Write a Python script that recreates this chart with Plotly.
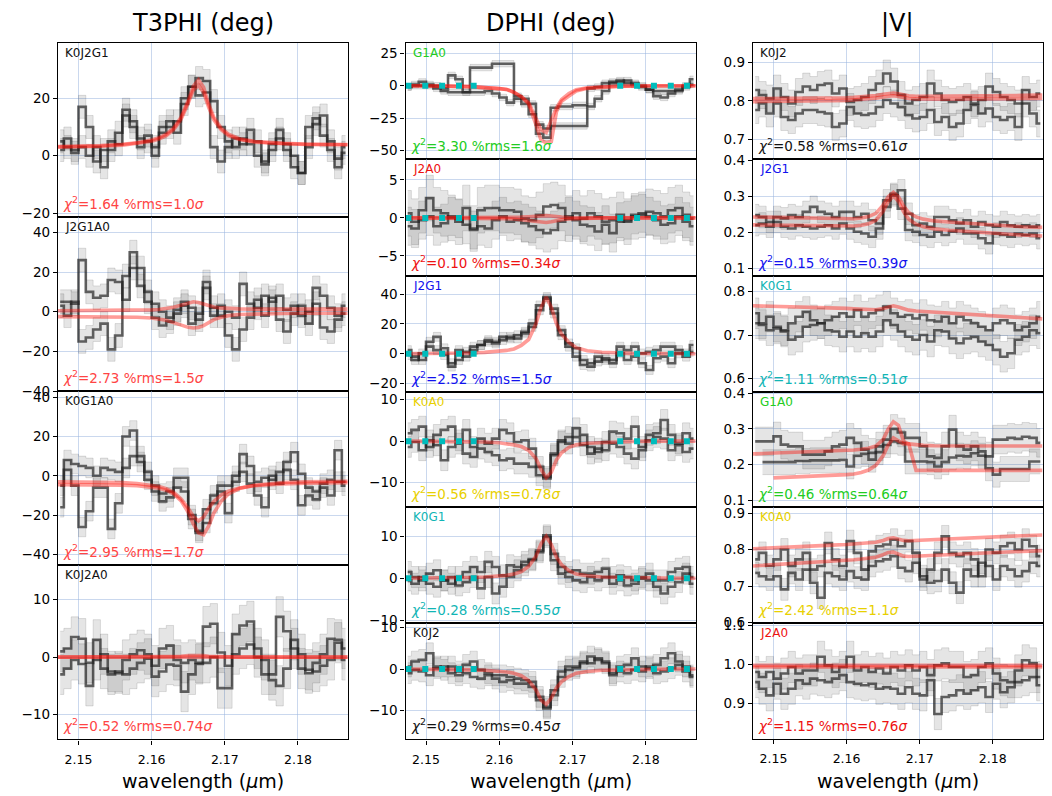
import plotly.graph_objects as go

FONT = "DejaVu Sans"
W, H = 1052, 796

# ---------------- wavelength grids ----------------
wavelength = [2.1475, 2.1485, 2.1495, 2.1505, 2.1515, 2.1525, 2.1535, 2.1545, 2.1555, 2.1565,
              2.1575, 2.1585, 2.1595, 2.1605, 2.1615, 2.1625, 2.1635, 2.1645, 2.1655, 2.1665,
              2.1675, 2.1685, 2.1695, 2.1705, 2.1715, 2.1725, 2.1735, 2.1745, 2.1755, 2.1765,
              2.1775, 2.1785, 2.1795, 2.1805, 2.1815, 2.1825, 2.1835, 2.1845, 2.1855, 2.1865]
model_wavelength = [2.1472, 2.150, 2.153, 2.156, 2.158, 2.160, 2.161, 2.162, 2.163, 2.164,
                    2.165, 2.1657, 2.1664, 2.1671, 2.1678, 2.1685, 2.1695, 2.1705, 2.172, 2.174,
                    2.176, 2.178, 2.181, 2.184, 2.1868]
continuum_wavelength = [2.1476, 2.1499, 2.1522, 2.1545, 2.1565, 2.1765, 2.1788, 2.1811, 2.1834, 2.1856]

# ---------------- T3PHI ----------------
t3_K0J2G1_a = [5, 3, 2, 17, 10, -2, 2, 5, 4, 14, 10, 6, 5, 3, 8, 10, 12, 18, 24, 27, 26, 19, 10, 5, 3, 6, 4, 0, -3, 4, 6, 2, -4, -6, 10, 13, 7, 2, -1, 3]
t3_K0J2G1_b = [2, 6, 1, 3, 0, 3, -4, 2, 8, 16, 12, 3, 7, 0, 10, 12, 8, 20, 24, 21, 22, 3, -2, 3, 6, 4, 9, 5, -2, 2, 9, 4, 0, -6, 3, 11, 14, 5, -4, 1]
t3_K0J2G1_err = [4, 4]
t3_K0J2G1_m1 = [3.2, 3.3, 3.5, 4.0, 4.5, 5.5, 6.3, 7.5, 9.6, 13.3, 19.2, 24.2, 26.4, 23.8, 17.9, 13.4, 9.6, 7.5, 5.9, 5.0, 4.6, 4.3, 4.1, 4.0, 3.9]
t3_K0J2G1_m2 = [3.0, 3.1, 3.3, 3.7, 4.2, 5.0, 5.8, 7.0, 9.0, 12.6, 18.3, 22.8, 24.5, 22.0, 16.8, 12.5, 9.0, 7.0, 5.6, 4.8, 4.4, 4.1, 3.9, 3.8, 3.8]

t3_J2G1A0_a = [5, 5, 4, 26, 10, 7, 8, 16, 15, 6, 30, 22, 10, 4, 0, -3, 1, 5, 2, -4, 12, 2, -2, 0, -3, 14, 4, 2, 8, 5, 8, 1, 3, -2, 0, 12, 8, 2, -2, -1]
t3_J2G1A0_b = [3, -2, 5, -15, -13, -9, -6, -19, -12, 18, 22, 13, 5, -3, -7, -5, -1, 3, -6, -1, 15, -2, 3, -12, -19, -9, -3, 6, -2, 7, -4, -10, -1, 3, -6, 4, -8, -10, -4, 3]
t3_J2G1A0_err = [6, 6]
t3_J2G1A0_m1 = [0.5, 0.5, 0.5, 0.6, 0.7, 0.9, 1.1, 1.5, 2.2, 3.3, 4.5, 5.0, 4.6, 3.8, 3.0, 2.4, 1.9, 1.6, 1.4, 1.3, 1.3, 1.3, 1.3, 1.3, 1.3]
t3_J2G1A0_m2 = [-2.5, -2.5, -2.5, -2.6, -2.8, -3.2, -3.6, -4.3, -5.5, -6.9, -7.9, -8.2, -8.0, -7.0, -5.4, -4.0, -2.8, -2.0, -1.4, -1.1, -0.9, -0.9, -0.8, -0.8, -0.8]

t3_K0G1A0_a = [-5, 8, 6, 5, 4, 0, 4, 3, 2, 20, 23, 10, 2, -5, -9, -8, -1, -1, -22, -28, -17, -10, -5, -5, -3, 11, 5, -3, -1, -2, 2, 7, 12, 1, -6, -8, -4, -2, 13, -3]
t3_K0G1A0_b = [-16, 3, -5, -26, -18, -6, -6, -27, -14, 4, 10, 7, -2, -8, -13, -11, -6, -8, -20, -29, -24, -14, -8, -19, 0, 2, -4, -10, -16, 0, -4, 3, -2, -15, -10, -12, -6, -10, -3, -5]
t3_K0G1A0_err = [5, 5]
t3_K0G1A0_m1 = [-3.0, -3.1, -3.2, -3.5, -3.9, -4.7, -5.4, -6.5, -8.4, -11.7, -16.5, -20.8, -23.0, -21.0, -16.5, -13.0, -9.8, -7.8, -6.2, -5.1, -4.5, -4.1, -3.8, -3.6, -3.5]
t3_K0G1A0_m2 = [-4.5, -4.5, -4.6, -4.8, -5.1, -5.7, -6.3, -7.3, -9.2, -12.6, -18.5, -24.5, -29.0, -30.0, -25.5, -19.0, -13.0, -9.2, -6.5, -4.8, -3.9, -3.4, -3.0, -2.9, -2.8]

t3_K0J2A0_a = [1, 1.5, 3.5, 3.2, -1, 3, -2, -2.5, -2.8, -0.5, 0.5, 1.2, 0.5, -1.5, 1.5, 2, -0.5, -1, -0.5, -1, 5.3, 5.8, 0.8, -1.5, 4, 5.5, 6.2, 1.5, -0.5, -3, 7, 4.5, 1.5, -2, -2.8, -1, 0.5, 3.2, 3, 1.5]
t3_K0J2A0_b = [-3, -2, -0.5, -1.2, -5, -0.5, 0.5, -3, -2.5, -3, -2, -1, -0.3, -3.4, -2.5, -1.3, -1.5, -6, -3, -1.2, -1, 0, -5.4, -5.4, 0.5, 1.5, 2.2, 0, -3, -4, -5, -2, 3, 0.5, -2.2, -2.5, -1.5, -0.5, 2.5, -0.5]
t3_K0J2A0_err = [3.5, 3.5]
t3_K0J2A0_m1 = [0.0, 0.0, 0.0, 0.0, 0.0, 0.0, 0.0, 0.05, 0.1, 0.15, 0.25, 0.3, 0.3, 0.25, 0.15, 0.1, 0.05, 0.0, 0.0, 0.0, 0.0, 0.0, 0.0, 0.0, 0.0]
t3_K0J2A0_m2 = [0.0, 0.0, 0.0, 0.0, 0.0, 0.0, 0.0, 0.0, 0.0, 0.0, 0.0, 0.0, 0.0, 0.0, 0.0, 0.0, 0.0, 0.0, 0.0, 0.0, 0.0, 0.0, 0.0, 0.0, 0.0]

# ---------------- DPHI ----------------
dp_G1A0_a = [-1, 1, 3, 1, 0, -2, 8, 5, -5, -5, -5, -4, -6, -9, -13, -10, -14, -22, -37, -40, -17, -16, -16, -15, -15, -2, -1, 2, 3, 4, 2, 1, 0, -3, -8, -9, -6, -3, 0, 1]
dp_G1A0_b = [-1, 0, 0, 0, -2, -4, -5, -5, -5, 14, 14, 14, 17, 17, 17, -8, -10, -14, -30, -33, -31, -31, -31, -31, -31, -16, -10, -4, 2, 3, 4, 2, -1, -3, -4, -4, -4, -4, -1, 5]
dp_G1A0_err = [2.5, 2.5]
dp_G1A0_m1 = [0, 0, -0.3, -0.7, -1.2, -2.2, -2.8, -5, -8.5, -13, -25, -34, -36, -27, -17, -10.5, -6, -3, -1.5, -0.8, -0.4, -0.2, 0, 0, 0]
dp_G1A0_m2 = [0, 0, -0.3, -0.7, -1.2, -2.2, -2.8, -5, -8.5, -14, -30, -42, -44, -43, -20, -12, -8, -4, -2, -1, -0.5, -0.2, 0, 0, 0]

dp_J2A0_a = [0.6, -0.5, 1.0, 2.6, 1.0, 0.6, 0.0, -0.5, 1.3, -1.4, 1.0, 1.3, 1.3, 1.0, 1.0, 0.8, -0.1, -0.3, 0.4, 1.5, 1.7, 1.3, -0.1, 0.6, -0.1, 0.6, 0.2, -0.5, -0.3, 0.4, -0.5, 0.2, 0.4, 0.8, 0.6, 0.2, 1.0, 1.3, 0.4, -0.1]
dp_J2A0_b = [-1.1, -1.4, -0.3, 0.2, -1.1, -0.7, 0.2, -0.1, -0.9, -1.6, -1.1, -1.4, -0.3, 0.2, -0.5, -0.3, -0.7, -1.1, -1.6, -2.0, -1.6, -0.5, 0.2, -0.3, -0.9, -1.1, -1.8, -0.9, -2.0, -0.5, -0.3, 0.4, 0.6, 0.2, -0.3, -0.9, -0.7, 0.2, -0.5, -1.1]
dp_J2A0_err = [3.0, 2.5]
dp_J2A0_m1 = [0, 0, 0, 0, 0, 0, 0, 0.05, 0.1, 0.15, 0.25, 0.3, 0.3, 0.25, 0.15, 0.1, 0.05, 0, 0, 0, 0, 0, 0, 0, 0]
dp_J2A0_m2 = [0, 0, 0, 0, 0, -0.05, -0.1, -0.15, -0.25, -0.35, -0.5, -0.6, -0.6, -0.5, -0.35, -0.25, -0.15, -0.1, -0.05, 0, 0, 0, 0, 0, 0]

dp_J2G1_a = [2.4, -2.0, -4.2, 8.0, 11.3, 3.6, -6.4, 2.4, -2.0, 2.4, 5.8, 9.1, 8.0, 11.3, 10.2, 12.4, 14.7, 20.2, 32.4, 38.0, 30.2, 15.8, 6.9, 3.6, -4.2, -6.4, -2.0, -4.2, -6.4, 4.7, 2.4, 4.7, 0.2, 1.3, 2.4, 4.7, 4.7, 2.4, 0.2, 5.8]
dp_J2G1_b = [-0.9, -4.2, 0.2, 4.7, 2.4, -0.9, -8.7, -4.2, 1.3, 4.7, 5.8, 8.0, 6.9, 9.1, 11.3, 10.2, 13.6, 18.0, 29.1, 36.9, 26.9, 12.4, 4.7, -2.0, -7.6, -8.7, -5.3, -3.1, -4.2, 0.2, -4.2, -2.0, -6.4, -10.9, -3.1, -2.0, -6.4, 0.2, -2.0, 1.3]
dp_J2G1_err = [3, 3]
dp_J2G1_m1 = [0, 0, 0.2, 0.5, 0.9, 1.6, 2.2, 3.2, 5.5, 9.5, 20, 31, 38, 31, 20, 13, 7.5, 4, 2, 1, 0.5, 0.2, 0.1, 0, 0]

dp_K0A0_a = [1.9, 2.7, 3.5, -1.4, 1.5, 2.7, 3.5, 0.2, 2.7, -1.4, 0.6, -0.6, 0.6, 2.7, 1.9, -0.2, 0.2, -1.8, -6.2, -8.6, -3.4, -0.2, 1.0, 3.1, 1.5, -1.4, -2.6, -0.2, 2.3, 1.9, 0.6, 3.5, -1.4, 1.5, 1.9, 5.1, 1.5, -0.6, 1.9, 0.6]
dp_K0A0_b = [-1.4, -0.2, -2.2, 0.2, -1.0, -4.6, -1.4, -0.6, -3.0, -3.8, -1.8, -2.6, -3.4, -4.6, -4.2, -5.4, -5.4, -6.2, -8.2, -9.0, -3.0, 0.2, -0.6, 1.0, -1.0, -3.0, -1.8, -2.2, -0.6, -1.4, -3.0, -4.2, -2.2, 0.2, 1.0, 0.6, -2.2, -1.0, -2.6, -1.8]
dp_K0A0_err = [2.5, 2.5]
dp_K0A0_m1 = [0, 0, 0, -0.1, -0.2, -0.4, -0.6, -0.9, -1.3, -2.2, -4.2, -6.8, -8.8, -7.5, -4.5, -2.8, -1.5, -0.9, -0.5, -0.3, -0.2, -0.1, 0, 0, 0]

dp_K0G1_a = [1.5, 0.3, -0.5, 1.1, 1.9, -0.5, -1.3, 0.3, 1.5, 2.7, 1.5, 3.9, 2.7, 0.7, 3.1, 2.7, 3.9, 4.6, 6.6, 10.2, 5.8, 2.7, 1.5, 1.9, 1.1, 1.1, 1.5, 2.3, 0.3, 0.7, 0.3, -0.5, 0.3, 1.1, -0.5, -0.5, 1.5, 2.3, 2.7, 0.3]
dp_K0G1_b = [-0.5, -1.3, 0.3, -1.3, -2.0, -0.5, 0.3, -1.7, -0.9, 0.3, -2.4, 0.3, -3.6, -2.0, 0.3, 1.9, 3.1, 4.3, 6.2, 9.8, 4.3, 1.1, 0.3, -0.5, -0.9, 0.3, -0.5, 0.3, -1.3, -0.5, -1.7, -1.3, -0.1, -0.5, -2.0, -3.6, -2.0, -0.9, 1.1, -1.3]
dp_K0G1_err = [2.5, 2.5]
dp_K0G1_m1 = [0, 0, 0.1, 0.2, 0.3, 0.5, 0.7, 1.0, 1.6, 2.8, 5.2, 8.2, 10.0, 8.0, 5.0, 3.2, 1.8, 1.0, 0.6, 0.3, 0.2, 0.1, 0, 0, 0]

dp_K0J2_a = [0.6, 1.8, 2.2, 3.8, 0.6, -0.2, 0.6, -0.6, 1.0, 1.8, -0.2, -1.0, -1.5, -1.5, -1.9, -2.3, -2.7, -3.1, -6.7, -9.5, -6.3, -1.9, -0.2, 0.2, 1.4, 3.0, 2.2, 1.8, -1.5, 0.6, 1.0, 2.6, 0.6, 0.2, 1.0, 2.6, 3.8, 1.8, 0.6, -1.9]
dp_K0J2_b = [-1.0, -0.2, -0.6, -1.5, 0.2, 0.6, -1.0, -1.5, -1.0, -1.9, -2.3, -1.5, -2.3, -3.1, -2.7, -3.5, -3.5, -4.3, -7.5, -9.1, -5.1, -0.6, 0.6, 0.6, 1.8, 1.4, 2.6, 1.4, -1.0, -0.6, -1.0, -0.2, -0.6, 0.6, -1.0, -0.6, 0.2, 1.0, -0.6, -1.5]
dp_K0J2_err = [2.5, 2.5]
dp_K0J2_m1 = [0, 0, -0.1, -0.2, -0.3, -0.5, -0.7, -1.0, -1.6, -2.8, -5.0, -7.5, -8.5, -7.0, -4.5, -3.0, -1.8, -1.0, -0.6, -0.3, -0.2, -0.1, 0, 0, 0]

# ---------------- |V| ----------------
v_K0J2_a = [0.828, 0.815, 0.806, 0.832, 0.810, 0.793, 0.823, 0.837, 0.828, 0.841, 0.845, 0.819, 0.832, 0.797, 0.802, 0.810, 0.828, 0.845, 0.871, 0.850, 0.815, 0.793, 0.802, 0.810, 0.845, 0.819, 0.802, 0.797, 0.802, 0.810, 0.793, 0.802, 0.837, 0.823, 0.810, 0.802, 0.793, 0.828, 0.810, 0.819]
v_K0J2_b = [0.776, 0.793, 0.767, 0.793, 0.758, 0.750, 0.767, 0.776, 0.776, 0.771, 0.767, 0.732, 0.741, 0.784, 0.767, 0.763, 0.767, 0.784, 0.802, 0.793, 0.784, 0.763, 0.754, 0.758, 0.776, 0.745, 0.758, 0.732, 0.741, 0.776, 0.789, 0.767, 0.780, 0.758, 0.750, 0.758, 0.732, 0.793, 0.767, 0.741]
v_K0J2_err = [0.035, 0.035]
v_K0J2_m1 = [0.798, 0.798, 0.799, 0.800, 0.800, 0.801, 0.802, 0.803, 0.805, 0.807, 0.810, 0.812, 0.813, 0.811, 0.808, 0.806, 0.805, 0.804, 0.804, 0.804, 0.805, 0.805, 0.805, 0.806, 0.806]
v_K0J2_m2 = [0.806, 0.806, 0.807, 0.807, 0.808, 0.808, 0.809, 0.810, 0.812, 0.814, 0.817, 0.819, 0.820, 0.818, 0.815, 0.813, 0.812, 0.812, 0.812, 0.812, 0.813, 0.813, 0.814, 0.814, 0.815]

v_J2G1_a = [0.247, 0.242, 0.228, 0.242, 0.238, 0.247, 0.242, 0.256, 0.270, 0.256, 0.251, 0.242, 0.256, 0.256, 0.242, 0.251, 0.233, 0.224, 0.288, 0.306, 0.316, 0.251, 0.219, 0.224, 0.215, 0.242, 0.242, 0.233, 0.224, 0.233, 0.215, 0.228, 0.219, 0.215, 0.228, 0.219, 0.215, 0.219, 0.215, 0.219]
v_J2G1_b = [0.219, 0.224, 0.215, 0.228, 0.215, 0.210, 0.219, 0.215, 0.210, 0.215, 0.219, 0.210, 0.224, 0.210, 0.201, 0.196, 0.187, 0.210, 0.270, 0.302, 0.265, 0.206, 0.201, 0.192, 0.187, 0.201, 0.192, 0.201, 0.210, 0.196, 0.196, 0.183, 0.169, 0.196, 0.192, 0.187, 0.196, 0.192, 0.196, 0.183]
v_J2G1_err = [0.03, 0.03]
v_J2G1_m1 = [0.242, 0.241, 0.239, 0.237, 0.236, 0.236, 0.237, 0.239, 0.243, 0.252, 0.275, 0.298, 0.310, 0.298, 0.272, 0.254, 0.242, 0.236, 0.231, 0.228, 0.225, 0.222, 0.218, 0.215, 0.213]
v_J2G1_m2 = [0.220, 0.219, 0.218, 0.217, 0.216, 0.216, 0.217, 0.219, 0.223, 0.233, 0.258, 0.285, 0.300, 0.286, 0.256, 0.236, 0.222, 0.215, 0.209, 0.205, 0.202, 0.199, 0.195, 0.192, 0.189]

v_K0G1_a = [0.750, 0.727, 0.742, 0.719, 0.711, 0.727, 0.742, 0.753, 0.734, 0.727, 0.734, 0.742, 0.750, 0.742, 0.757, 0.742, 0.750, 0.757, 0.765, 0.750, 0.742, 0.746, 0.738, 0.746, 0.734, 0.731, 0.742, 0.727, 0.742, 0.734, 0.727, 0.719, 0.711, 0.727, 0.734, 0.727, 0.711, 0.719, 0.727, 0.742]
v_K0G1_b = [0.727, 0.723, 0.711, 0.715, 0.708, 0.689, 0.696, 0.719, 0.723, 0.727, 0.711, 0.708, 0.696, 0.708, 0.696, 0.704, 0.696, 0.708, 0.734, 0.723, 0.708, 0.696, 0.689, 0.700, 0.685, 0.711, 0.708, 0.692, 0.681, 0.692, 0.696, 0.685, 0.677, 0.666, 0.650, 0.658, 0.689, 0.696, 0.711, 0.704]
v_K0G1_err = [0.035, 0.035]
v_K0G1_m1 = [0.767, 0.766, 0.765, 0.763, 0.762, 0.761, 0.760, 0.759, 0.758, 0.758, 0.761, 0.765, 0.767, 0.764, 0.760, 0.757, 0.755, 0.754, 0.752, 0.750, 0.748, 0.746, 0.743, 0.740, 0.737]

v_G1A0_a = [0.265, 0.265, 0.265, 0.279, 0.256, 0.251, 0.251, 0.228, 0.228, 0.228, 0.237, 0.251, 0.256, 0.275, 0.261, 0.242, 0.233, 0.251, 0.270, 0.300, 0.290, 0.275, 0.275, 0.251, 0.223, 0.219, 0.251, 0.298, 0.251, 0.242, 0.251, 0.237, 0.223, 0.270, 0.270, 0.275, 0.272, 0.278, 0.275, 0.261]
v_G1A0_b = [None, 0.207, 0.207, 0.207, 0.207, 0.207, 0.210, 0.210, 0.212, 0.212, 0.212, 0.212, 0.213, 0.195, 0.225, 0.230, 0.214, 0.235, 0.255, 0.265, 0.261, 0.209, 0.209, 0.209, 0.207, 0.195, 0.207, 0.220, 0.225, 0.223, 0.232, 0.225, 0.190, 0.172, 0.188, 0.188, 0.188, 0.188, 0.209, 0.209]
v_G1A0_err = [0.04, 0.035]
v_G1A0_m1 = [0.230, 0.232, 0.234, 0.236, 0.238, 0.240, 0.241, 0.243, 0.246, 0.252, 0.270, 0.300, 0.320, 0.310, 0.265, 0.258, 0.255, 0.254, 0.253, 0.253, 0.253, 0.253, 0.253, 0.252, 0.252]
v_G1A0_m2 = [None, 0.163, 0.165, 0.168, 0.170, 0.172, 0.174, 0.178, 0.185, 0.198, 0.225, 0.255, 0.275, 0.265, 0.258, 0.258, 0.184, 0.184, 0.184, 0.184, 0.184, 0.184, 0.184, 0.184, 0.184]

v_K0A0_a = [0.773, 0.791, 0.755, 0.773, 0.800, 0.755, 0.773, 0.791, 0.745, 0.755, 0.818, 0.773, 0.755, 0.823, 0.791, 0.745, 0.795, 0.809, 0.814, 0.827, 0.809, 0.823, 0.791, 0.718, 0.745, 0.791, 0.836, 0.791, 0.782, 0.791, 0.773, 0.727, 0.800, 0.791, 0.809, 0.818, 0.800, 0.827, 0.809, 0.782]
v_K0A0_b = [0.736, 0.727, 0.718, 0.727, 0.691, 0.736, 0.718, 0.745, 0.709, 0.668, 0.736, 0.727, 0.718, 0.741, 0.723, 0.718, 0.755, 0.768, 0.773, 0.782, 0.750, 0.741, 0.764, 0.727, 0.709, 0.714, 0.745, 0.709, 0.682, 0.745, 0.727, 0.764, 0.755, 0.718, 0.755, 0.745, 0.727, 0.741, 0.764, 0.755]
v_K0A0_err = [0.03, 0.03]
v_K0A0_m1 = [0.802, 0.804, 0.807, 0.810, 0.812, 0.814, 0.815, 0.816, 0.818, 0.820, 0.825, 0.830, 0.832, 0.828, 0.825, 0.824, 0.825, 0.826, 0.828, 0.830, 0.832, 0.834, 0.836, 0.838, 0.840]
v_K0A0_m2 = [0.755, 0.758, 0.762, 0.766, 0.768, 0.771, 0.772, 0.774, 0.776, 0.779, 0.786, 0.792, 0.793, 0.788, 0.782, 0.781, 0.782, 0.783, 0.784, 0.786, 0.788, 0.790, 0.792, 0.795, 0.797]

v_J2A0_a = [0.980, 0.967, 0.980, 0.963, 0.976, 0.993, 0.976, 0.984, 0.984, 1.019, 0.997, 0.980, 0.993, 1.019, 0.984, 0.993, 0.980, 0.989, 0.976, 0.993, 0.984, 0.997, 0.984, 0.993, 0.972, 0.997, 1.002, 0.993, 0.993, 0.967, 0.972, 0.993, 1.002, 0.976, 0.959, 0.954, 0.984, 1.010, 1.002, 0.967]
v_J2A0_b = [0.954, 0.937, 0.920, 0.950, 0.924, 0.937, 0.959, 0.950, 0.963, 0.959, 0.954, 0.963, 0.972, 0.954, 0.950, 0.946, 0.950, 0.937, 0.941, 0.937, 0.924, 0.941, 0.924, 0.920, 0.959, 0.872, 0.916, 0.920, 0.933, 0.924, 0.933, 0.941, 0.916, 0.950, 0.928, 0.941, 0.954, 0.959, 0.967, 0.946]
v_J2A0_err = [0.04, 0.04]
v_J2A0_m1 = [0.993, 0.993, 0.993, 0.993, 0.993, 0.993, 0.993, 0.993, 0.994, 0.994, 0.995, 0.995, 0.995, 0.995, 0.994, 0.994, 0.993, 0.993, 0.993, 0.993, 0.993, 0.993, 0.993, 0.993, 0.993]
v_J2A0_m2 = [0.997, 0.997, 0.997, 0.997, 0.997, 0.997, 0.997, 0.997, 0.997, 0.998, 0.998, 0.999, 0.999, 0.998, 0.998, 0.997, 0.997, 0.997, 0.997, 0.997, 0.997, 0.997, 0.997, 0.997, 0.997]

# ---------------- colours ----------------
BLACK = "#111111"
T3RED = "#ff4444"
RED = "#ee1111"
GREEN = "#22cc22"
BLUE = "#1111ee"
YELLOW = "#e8d000"
CYAN = "#11b5b5"

panels = [
    # column 0: T3PHI
    dict(col=0, row=0, label="K0J2G1", lc=BLACK, cc=T3RED, chi="1.64", rms="1.0",
         data=[t3_K0J2G1_a, t3_K0J2G1_b], err=t3_K0J2G1_err, models=[t3_K0J2G1_m1, t3_K0J2G1_m2],
         yr=[-21.2, 39.3], yt=[-20, 0, 20], cont=False),
    dict(col=0, row=1, label="J2G1A0", lc=BLACK, cc=T3RED, chi="2.73", rms="1.5",
         data=[t3_J2G1A0_a, t3_J2G1A0_b], err=t3_J2G1A0_err, models=[t3_J2G1A0_m1, t3_J2G1A0_m2],
         yr=[-40.0, 47.9], yt=[-40, -20, 0, 20, 40], cont=False),
    dict(col=0, row=2, label="K0G1A0", lc=BLACK, cc=T3RED, chi="2.95", rms="1.7",
         data=[t3_K0G1A0_a, t3_K0G1A0_b], err=t3_K0G1A0_err, models=[t3_K0G1A0_m1, t3_K0G1A0_m2],
         yr=[-45.1, 43.1], yt=[-40, -20, 0, 20, 40], cont=False),
    dict(col=0, row=3, label="K0J2A0", lc=BLACK, cc=T3RED, chi="0.52", rms="0.74",
         data=[t3_K0J2A0_a, t3_K0J2A0_b], err=t3_K0J2A0_err, models=[t3_K0J2A0_m1, t3_K0J2A0_m2],
         yr=[-14.3, 16.1], yt=[-10, 0, 10], cont=False),
    # column 1: DPHI
    dict(col=1, row=0, label="G1A0", lc=GREEN, cc=GREEN, chi="3.30", rms="1.6",
         data=[dp_G1A0_a, dp_G1A0_b], err=dp_G1A0_err, models=[dp_G1A0_m1, dp_G1A0_m2],
         yr=[-56.7, 33.2], yt=[-50, -25, 0, 25], cont=True),
    dict(col=1, row=1, label="J2A0", lc=RED, cc=RED, chi="0.10", rms="0.34",
         data=[dp_J2A0_a, dp_J2A0_b], err=dp_J2A0_err, models=[dp_J2A0_m1, dp_J2A0_m2],
         yr=[-7.6, 7.7], yt=[-5, 0, 5], cont=True),
    dict(col=1, row=2, label="J2G1", lc=BLUE, cc=BLUE, chi="2.52", rms="1.5",
         data=[dp_J2G1_a, dp_J2G1_b], err=dp_J2G1_err, models=[dp_J2G1_m1],
         yr=[-25.5, 52.3], yt=[-20, 0, 20, 40], cont=True),
    dict(col=1, row=3, label="K0A0", lc=YELLOW, cc=YELLOW, chi="0.56", rms="0.78",
         data=[dp_K0A0_a, dp_K0A0_b], err=dp_K0A0_err, models=[dp_K0A0_m1],
         yr=[-15.9, 11.9], yt=[-10, 0, 10], cont=True),
    dict(col=1, row=4, label="K0G1", lc=CYAN, cc=CYAN, chi="0.28", rms="0.55",
         data=[dp_K0G1_a, dp_K0G1_b], err=dp_K0G1_err, models=[dp_K0G1_m1],
         yr=[-10.7, 16.9], yt=[-10, 0, 10], cont=True),
    dict(col=1, row=5, label="K0J2", lc=BLACK, cc=BLACK, chi="0.29", rms="0.45",
         data=[dp_K0J2_a, dp_K0J2_b], err=dp_K0J2_err, models=[dp_K0J2_m1],
         yr=[-16.9, 11.0], yt=[-10, 0, 10], cont=True),
    # column 2: |V|
    dict(col=2, row=0, label="K0J2", lc=BLACK, cc=BLACK, chi="0.58", rms="0.61",
         data=[v_K0J2_a, v_K0J2_b], err=v_K0J2_err, models=[v_K0J2_m1, v_K0J2_m2],
         yr=[0.648, 0.951], yt=[0.7, 0.8, 0.9], cont=False),
    dict(col=2, row=1, label="J2G1", lc=BLUE, cc=BLUE, chi="0.15", rms="0.39",
         data=[v_J2G1_a, v_J2G1_b], err=v_J2G1_err, models=[v_J2G1_m1, v_J2G1_m2],
         yr=[0.079, 0.402], yt=[0.1, 0.2, 0.3, 0.4], cont=False),
    dict(col=2, row=2, label="K0G1", lc=CYAN, cc=CYAN, chi="1.11", rms="0.51",
         data=[v_K0G1_a, v_K0G1_b], err=v_K0G1_err, models=[v_K0G1_m1],
         yr=[0.570, 0.836], yt=[0.6, 0.7, 0.8], cont=False),
    dict(col=2, row=3, label="G1A0", lc=GREEN, cc=GREEN, chi="0.46", rms="0.64",
         data=[v_G1A0_a, v_G1A0_b], err=v_G1A0_err, models=[v_G1A0_m1, v_G1A0_m2],
         yr=[0.081, 0.404], yt=[0.1, 0.2, 0.3, 0.4], cont=False),
    dict(col=2, row=4, label="K0A0", lc=YELLOW, cc=YELLOW, chi="2.42", rms="1.1",
         data=[v_K0A0_a, v_K0A0_b], err=v_K0A0_err, models=[v_K0A0_m1, v_K0A0_m2],
         yr=[0.598, 0.916], yt=[0.6, 0.7, 0.8, 0.9], cont=False),
    dict(col=2, row=5, label="J2A0", lc=RED, cc=RED, chi="1.15", rms="0.76",
         data=[v_J2A0_a, v_J2A0_b], err=v_J2A0_err, models=[v_J2A0_m1, v_J2A0_m2],
         yr=[0.808, 1.105], yt=[0.9, 1.0, 1.1], cont=False),
]

column_titles = ["T3PHI (deg)", "DPHI (deg)", "|V|"]
x_label = "wavelength (<i>μ</i>m)"
x_range = [2.1472, 2.1868]
x_ticks = [2.15, 2.16, 2.17, 2.18]

# ---------------- layout geometry (pixels) ----------------
col_px = [(58.0, 347.7), (405.5, 695.7), (753.0, 1042.5)]
row_edges = [
    [42.7, 216.7, 391.0, 564.5, 739.3],
    [42.7, 159.3, 275.7, 391.7, 507.2, 623.3, 739.3],
    [42.7, 159.3, 275.7, 391.7, 507.2, 623.3, 739.0],
]

GRID = "rgba(150,178,222,0.5)"
DATA_LINE = "rgba(30,30,30,0.68)"
BAND_FILL = "rgba(0,0,0,0.10)"
BAND_EDGE = "rgba(0,0,0,0.15)"
MODEL = "rgba(255,20,10,0.42)"
CONT = "#00bcbc"

fig = go.Figure()
layout = dict(
    width=W, height=H,
    margin=dict(l=0, r=0, t=0, b=0, pad=0, autoexpand=False),
    paper_bgcolor="white", plot_bgcolor="white",
    showlegend=False,
    font=dict(family=FONT, color="black"),
)
annotations = []

for k, p in enumerate(panels, start=1):
    xa = "x" if k == 1 else f"x{k}"
    ya = "y" if k == 1 else f"y{k}"
    xl = "xaxis" if k == 1 else f"xaxis{k}"
    yl = "yaxis" if k == 1 else f"yaxis{k}"
    c, r = p["col"], p["row"]
    edges = row_edges[c]
    top, bot = edges[r], edges[r + 1]
    bottom_row = (r == len(edges) - 2)
    x0, x1 = col_px[c]

    # error bands
    for series, e in zip(p["data"], p["err"]):
        xs = [w for w, v in zip(wavelength, series) if v is not None]
        vs = [v for v in series if v is not None]
        fig.add_trace(go.Scatter(x=xs, y=[v + e for v in vs], xaxis=xa, yaxis=ya, mode="lines",
                                 line=dict(color=BAND_EDGE, width=0.8, shape="hvh"),
                                 hoverinfo="skip"))
        fig.add_trace(go.Scatter(x=xs, y=[v - e for v in vs], xaxis=xa, yaxis=ya, mode="lines",
                                 line=dict(color=BAND_EDGE, width=0.8, shape="hvh"),
                                 fill="tonexty", fillcolor=BAND_FILL, hoverinfo="skip"))
    # data step lines
    for series in p["data"]:
        xs = [w for w, v in zip(wavelength, series) if v is not None]
        vs = [v for v in series if v is not None]
        fig.add_trace(go.Scatter(x=xs, y=vs, xaxis=xa, yaxis=ya, mode="lines",
                                 line=dict(color=DATA_LINE, width=2.6, shape="hvh")))
    # models
    for m in p["models"]:
        xs = [w for w, v in zip(model_wavelength, m) if v is not None]
        vs = [v for v in m if v is not None]
        fig.add_trace(go.Scatter(x=xs, y=vs, xaxis=xa, yaxis=ya, mode="lines",
                                 line=dict(color=MODEL, width=3.6)))
    # continuum markers (DPHI)
    if p["cont"]:
        fig.add_trace(go.Scatter(x=continuum_wavelength, y=[0] * len(continuum_wavelength),
                                 xaxis=xa, yaxis=ya, mode="markers",
                                 marker=dict(symbol="square", size=6, color=CONT, line=dict(width=0))))

    layout[xl] = dict(
        domain=[x0 / W, x1 / W], anchor=ya, range=x_range, automargin=False,
        showgrid=True, gridcolor=GRID, gridwidth=1, zeroline=False,
        tickmode="array", tickvals=x_ticks,
        ticktext=[f"{t:.2f}" for t in x_ticks],
        showticklabels=bottom_row, ticks="outside" if bottom_row else "",
        ticklen=4, tickcolor="black", tickfont=dict(size=12.5, family=FONT),
        ticklabelstandoff=4,
        showline=True, linecolor="black", linewidth=1.4, mirror=True,
    )
    layout[yl] = dict(
        domain=[1 - bot / H, 1 - top / H], anchor=xa, range=p["yr"], automargin=False,
        showgrid=True, gridcolor=GRID, gridwidth=1, zeroline=False,
        tickmode="array", tickvals=p["yt"],
        ticktext=[(str(t) if isinstance(t, int) else f"{t:.1f}").replace("-", "−") for t in p["yt"]],
        ticks="outside", ticklen=4, tickcolor="black", tickfont=dict(size=13.5, family=FONT),
        showline=True, linecolor="black", linewidth=1.4, mirror=True,
    )
    annotations.append(dict(xref=f"{xa} domain", yref=f"{ya} domain", x=0.018, y=1.0,
                            xanchor="left", yanchor="top", yshift=-1, showarrow=False,
                            text=p["label"], font=dict(size=12, color=p["lc"], family=FONT)))
    annotations.append(dict(xref=f"{xa} domain", yref=f"{ya} domain", x=0.012, y=0.0,
                            xanchor="left", yanchor="bottom", yshift=3, showarrow=False,
                            text=f"<i>χ</i><sup>2</sup>={p['chi']} %rms={p['rms']}<i>σ</i>",
                            font=dict(size=13.5, color=p["cc"], family=FONT)))

for c, title in enumerate(column_titles):
    x0, x1 = col_px[c]
    annotations.append(dict(xref="paper", yref="paper", x=(x0 + x1) / 2 / W, y=1 - 23 / H,
                            xanchor="center", yanchor="middle", showarrow=False,
                            text=title, font=dict(size=24, family=FONT, color="black")))
    annotations.append(dict(xref="paper", yref="paper", x=(x0 + x1) / 2 / W, y=1 - 781 / H,
                            xanchor="center", yanchor="middle", showarrow=False,
                            text=x_label, font=dict(size=19, family=FONT, color="black")))

layout["annotations"] = annotations
fig.update_layout(**layout)
fig.write_html("out.html")
